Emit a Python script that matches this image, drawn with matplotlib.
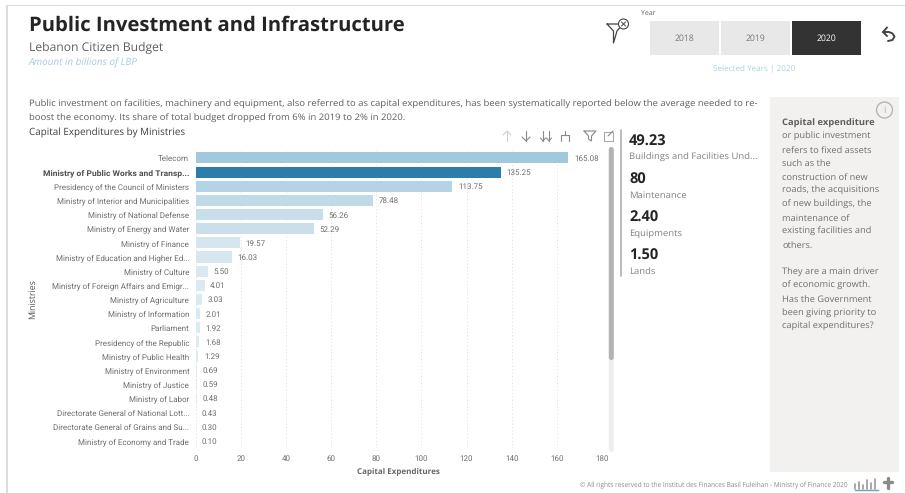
import matplotlib
matplotlib.use("Agg")
import matplotlib.pyplot as plt
from matplotlib.colors import LinearSegmentedColormap
from matplotlib.patches import Rectangle, Circle, FancyBboxPatch

plt.rcParams['font.family'] = ['Open Sans', 'DejaVu Sans']
plt.rcParams['text.hinting'] = 'no_hinting'

ministries = [
    "Telecom", "Ministry of Public Works and Transp...",
    "Presidency of the Council of Ministers", "Ministry of Interior and Municipalities",
    "Ministry of National Defense", "Ministry of Energy and Water",
    "Ministry of Finance", "Ministry of Education and Higher Ed...",
    "Ministry of Culture", "Ministry of Foreign Affairs and Emigr...",
    "Ministry of Agriculture", "Ministry of Information", "Parliament",
    "Presidency of the Republic", "Ministry of Public Health",
    "Ministry of Environment", "Ministry of Justice", "Ministry of Labor",
    "Directorate General of National Lott...", "Directorate General of Grains and Su...",
    "Ministry of Economy and Trade",
]
values = [165.08, 135.25, 113.75, 78.48, 56.26, 52.29, 19.57, 16.03, 5.50, 4.01,
          3.03, 2.01, 1.92, 1.68, 1.29, 0.69, 0.59, 0.48, 0.43, 0.30, 0.10]
x_ticks = [0, 20, 40, 60, 80, 100, 120, 140, 160, 180]
years = ["2018", "2019", "2020"]
kpi_values = ["49.23", "80", "2.40", "1.50"]
kpi_labels = ["Buildings and Facilities Und...", "Maintenance", "Equipments", "Lands"]

W, H = 905, 493
TXT = "#252423"
GREY = "#605e5c"
LABEL = "#6f6f6f"

fig = plt.figure(figsize=(W / 100, H / 100), dpi=100, facecolor="white")

# overlay in pixel coordinates, for everything that is not the bar chart
bg = fig.add_axes([0, 0, 1, 1], zorder=0)
bg.set_xlim(0, W)
bg.set_ylim(H, 0)
bg.axis("off")


def line(xs, ys, color="#555555", lw=1.0, ax=bg):
    ax.plot(xs, ys, color=color, lw=lw, solid_capstyle="round", solid_joinstyle="round")


# page frame
bg.add_patch(Rectangle((6, 4.5), W - 6, 1.6, color="#dcdcdc", lw=0))
bg.add_patch(Rectangle((6, 4.5), 1.6, H - 4.5, color="#dcdcdc", lw=0))

# headings
bg.text(29, 26, "Public Investment and Infrastructure", fontsize=14.6, fontweight="bold",
        color=TXT, va="center")
bg.text(29, 48, "Lebanon Citizen Budget", fontsize=8.7, color=GREY, va="center")
bg.text(29, 63, "Amount in billions of LBP", fontsize=7.1, color="#a6cbe0", va="center",
        style="italic")
bg.text(29, 104.5, "Public investment on facilities, machinery and equipment, also referred to as "
        "capital expenditures, has been systematically reported below the average needed to re-",
        fontsize=6.8, color=GREY, va="center")
bg.text(29, 118.5, "boost the economy. Its share of total budget dropped from 6% in 2019 to 2% in 2020.",
        fontsize=6.8, color=GREY, va="center")
bg.text(29, 133, "Capital Expenditures by Ministries", fontsize=7.1, color="#404040", va="center")

# year slicer
bg.text(641, 13.5, "Year", fontsize=5.0, color=GREY, va="center")
for i, year in enumerate(years):
    left = 650 + i * 71
    selected = year == "2020"
    bg.add_patch(Rectangle((left, 21), 69, 34, color="#333333" if selected else "#e8e8e8", lw=0))
    bg.text(left + 34.5, 38.5, year, fontsize=6.2, ha="center", va="center",
            color="white" if selected else "#777777")
bg.text(754, 69, "Selected Years | 2020", fontsize=5.9, color="#aecfe1", ha="center", va="center")

# clear filter icon
line([607, 623, 617, 613.5, 613.5, 607], [24, 24, 31, 43, 31, 24], color="#444444", lw=0.9)
bg.add_patch(Circle((623.5, 24), 5, fc="white", ec="#444444", lw=0.8, zorder=3))
bg.plot([621.5, 625.5], [22, 26], color="#444444", lw=0.7, zorder=4)
bg.plot([625.5, 621.5], [22, 26], color="#444444", lw=0.7, zorder=4)

# back arrow
line([883, 889, 892.5, 894.5, 892.5, 888], [32, 32, 33.5, 36.5, 40, 41], color="#444444", lw=1.4)
line([887, 883, 887], [27.5, 32, 36], color="#444444", lw=1.4)

# visual header icons
for x0, col in [(507, "#d0d0d0"), (526, "#888888")]:
    d = 1 if col == "#888888" else -1
    y0, y1 = (131, 141) if d == 1 else (141, 131)
    line([x0, x0], [y0, y1], color=col, lw=0.8)
    line([x0 - 4, x0, x0 + 4], [y1 - 4 * d, y1, y1 - 4 * d], color=col, lw=0.8)
for x0 in (543, 549):
    line([x0, x0], [131, 141], color="#888888", lw=0.8)
    line([x0 - 2.5, x0, x0 + 2.5], [138, 141, 138], color="#888888", lw=0.8)
line([565, 565], [131, 135], color="#888888", lw=0.8)
line([561, 561, 569, 569], [141, 135, 135, 141], color="#888888", lw=0.8)
line([584, 596, 591.5, 591.5, 588.5, 588.5, 584], [131, 131, 136, 141, 139, 136, 131], color="#888888", lw=0.8)
bg.add_patch(Rectangle((604, 132), 9, 9, fc="none", ec="#aaaaaa", lw=0.8))
line([608, 613], [136, 131], color="#888888", lw=0.8)

# scrollbar and KPI divider
bg.add_patch(FancyBboxPatch((608.8, 147), 5, 305, boxstyle="round,pad=0,rounding_size=2.5",
                            fc="#eeeeee", ec="none"))
bg.add_patch(FancyBboxPatch((608.8, 147), 5, 213, boxstyle="round,pad=0,rounding_size=2.5",
                            fc="#b3b3b3", ec="none"))
line([621, 621], [130, 276], color="#b0b0b0", lw=1.2)

# KPI column
for i, (val, lab) in enumerate(zip(kpi_values, kpi_labels)):
    y = 141.5 + i * 38
    bg.text(629, y, val, fontsize=10.5, fontweight="bold", color=TXT, va="center")
    bg.text(629, y + 16.5, lab, fontsize=6.8, color="#808080", va="center")

# side panel
bg.add_patch(Rectangle((770, 97), 129, 375, color="#f2f1f0", lw=0))
bg.add_patch(Circle((884.5, 110), 8, fc="none", ec="#b5b5b5", lw=1.0))
bg.text(884.5, 110, "i", fontsize=7, color="#b5b5b5", ha="center", va="center")
bg.text(782, 123, "Capital expenditure", fontsize=6.75, fontweight="bold", color=GREY, va="center")
panel_lines = ["or public investment", "refers to fixed assets", "such as the",
               "construction of new", "roads, the acquisitions", "of new buildings, the",
               "maintenance of", "existing facilities and", "others.", "",
               "They are a main driver", "of economic growth.", "Has the Government",
               "been giving priority to", "capital expenditures?"]
for i, txt in enumerate(panel_lines):
    bg.text(782, 136.7 + i * 13.57, txt, fontsize=6.7, color="#6f6f6f", va="center")

# footer
bg.text(848, 485, "\u00a9 All rights reserved to the Institut des Finances Basil Fuleihan - "
        "Ministry of Finance 2020", fontsize=4.73, color="#8a8a8a", ha="right", va="center")
for x0, h in [(855, 5), (859, 7), (863, 4), (867, 9), (871, 6), (875, 10)]:
    line([x0, x0], [489 - h, 489], color="#9a9a9a", lw=1.2)
line([855, 878], [490, 490], color="#6f9fbd", lw=1.0)
line([884, 892], [482, 482], color="#8a8a8a", lw=2.4)
line([888, 888], [478, 488], color="#8a8a8a", lw=2.4)

# bar chart
ax_left, ax_right, ax_top, ax_bottom = 195.5, 602, 150.9, 448
ax = fig.add_axes([ax_left / W, 1 - ax_bottom / H, (ax_right - ax_left) / W,
                   (ax_bottom - ax_top) / H], zorder=1)
ax.patch.set_alpha(0)
cmap = LinearSegmentedColormap.from_list("blues", ["#dceaf2", "#a2c8dd"])
bar_colors = [cmap(v / max(values)) for v in values]
bar_colors[1] = "#2b7dab"
pos = list(range(len(values)))
ax.barh(pos, values, height=0.78, color=bar_colors, zorder=2)
ax.set_ylim(len(values) - 0.5, -0.5)
ax.set_xlim(0, 180)
ax.set_xticks(x_ticks)
ax.set_yticks(pos)
ax.set_yticklabels(ministries, family="Roboto")
ax.grid(axis="x", color="#dddddd", lw=0.7, ls=(0, (1, 2.5)), zorder=1)
ax.tick_params(axis="both", length=0, labelsize=5.8, labelcolor=LABEL)
ax.tick_params(axis="y", pad=4.5)
ax.tick_params(axis="x", pad=5)
for t in ax.get_xticklabels():
    t.set_family("Roboto")
for s in ax.spines.values():
    s.set_visible(False)
ax.get_yticklabels()[1].set_fontweight("bold")
ax.get_yticklabels()[1].set_fontsize(6.1)
ax.get_yticklabels()[1].set_color("#505050")
for p, v in zip(pos, values):
    ax.annotate(f"{v:.2f}", (v, p), xytext=(4, -0.5), textcoords="offset points", fontsize=5.8,
                family="Roboto", color=LABEL, va="center")

bg.text(33, 299, "Ministries", fontsize=6.3, color="#555555", rotation=90, ha="center", va="center")
bg.text(398, 472.5, "Capital Expenditures", fontsize=5.8, fontweight="bold", color="#666666",
        ha="center", va="center")

fig.savefig("out.png", dpi=100, facecolor="white")
